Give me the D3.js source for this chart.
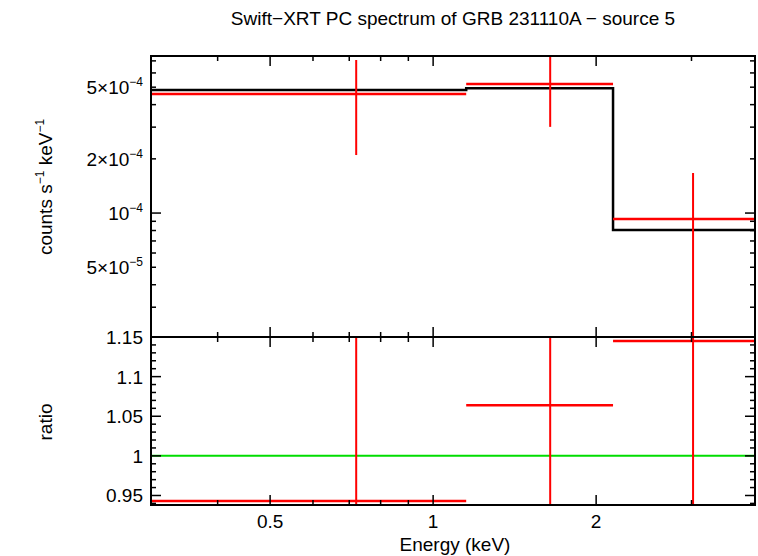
<!DOCTYPE html><html><head><meta charset="utf-8"><script src="https://cdn.jsdelivr.net/npm/d3@7"></script>
<style>body{margin:0;background:#fff}text{font-family:"Liberation Sans",Arial,sans-serif}</style></head><body>
<script>
const binLo=[0.3013,1.151,2.149];
const binHi=[1.151,2.149,4.2];
const binMid=[0.721,1.645,3.02];
const dataVal=[4.58e-4,5.20e-4,9.26e-5];
const dataHi=[7.08e-4,7.8e-4,1.67e-4];
const dataLo=[2.10e-4,3.01e-4,1e-6];
const modelVal=[4.82e-4,4.94e-4,8.04e-5];
const ratioVal=[0.943,1.064,1.145];
const ratioHi=[1.3,1.3,1.3];
const ratioLo=[0.5,0.5,0.5];
const xTicks=[0.5,1,2];
const yTopTicks=[5e-5,1e-4,2e-4,5e-4];
const yTopLabels=[["5×10","−5"],["10","−4"],["2×10","−4"],["5×10","−4"]];
const ratioTicks=[0.95,1,1.05,1.1,1.15];

const W=758,H=556,L=151,R=755,T=56,M=337,B=505,FS=19;
const svg=d3.select("body").append("svg").attr("width",W).attr("height",H);
const x=d3.scaleLog().domain([0.3013,3.93]).range([L,R]);
const yT=d3.scaleLog().domain([2.05e-5,7.45e-4]).range([M,T]);
const yB=d3.scaleLinear().domain([0.938,1.15]).range([B,M]);
const cp=svg.append("defs");
cp.append("clipPath").attr("id","ct").append("rect").attr("x",L).attr("y",T).attr("width",R-L).attr("height",M-T);
cp.append("clipPath").attr("id","cb").append("rect").attr("x",L).attr("y",M).attr("width",R-L).attr("height",B-M);
const gT=svg.append("g").attr("clip-path","url(#ct)");
const gB=svg.append("g").attr("clip-path","url(#cb)");
const stepPts=[];binLo.forEach((lo,i)=>{stepPts.push([x(lo),yT(modelVal[i])]);stepPts.push([x(binHi[i]),yT(modelVal[i])]);});
gT.append("path").attr("d",d3.line()(stepPts)).attr("fill","none").attr("stroke","#000").attr("stroke-width",2.5);
binLo.forEach((lo,i)=>{
 gT.append("line").attr("x1",x(lo)).attr("x2",x(binHi[i])).attr("y1",yT(dataVal[i])).attr("y2",yT(dataVal[i])).attr("stroke","red").attr("stroke-width",2.5);
 gT.append("line").attr("x1",x(binMid[i])).attr("x2",x(binMid[i])).attr("y1",yT(dataLo[i])).attr("y2",yT(dataHi[i])).attr("stroke","red").attr("stroke-width",2);
});
gB.append("line").attr("x1",L).attr("x2",R).attr("y1",yB(1)).attr("y2",yB(1)).attr("stroke","#00dd00").attr("stroke-width",2);
binLo.forEach((lo,i)=>{
 gB.append("line").attr("x1",x(lo)).attr("x2",x(binHi[i])).attr("y1",yB(ratioVal[i])).attr("y2",yB(ratioVal[i])).attr("stroke","red").attr("stroke-width",2.5);
 gB.append("line").attr("x1",x(binMid[i])).attr("x2",x(binMid[i])).attr("y1",yB(ratioLo[i])).attr("y2",yB(ratioHi[i])).attr("stroke","red").attr("stroke-width",2);
});
[[T,M],[M,B]].forEach(([a,b])=>svg.append("rect").attr("x",L).attr("y",a).attr("width",R-L).attr("height",b-a).attr("fill","none").attr("stroke","#000").attr("stroke-width",2));
const xMinor=[0.4,0.5,0.6,0.7,0.8,0.9,1,2,3];
xMinor.forEach(v=>{const big=xTicks.includes(v);const l=big?10:5;
 [[M,-1],[T,1],[B,-1],[M,1]].forEach(([y0,d])=>svg.append("line").attr("x1",x(v)).attr("x2",x(v)).attr("y1",y0).attr("y2",y0+d*l).attr("stroke","#000").attr("stroke-width",1.5));
});
xTicks.forEach(v=>svg.append("text").attr("x",x(v)).attr("y",528).attr("text-anchor","middle").attr("font-size",FS).text(v));
const yMinor=[3e-5,4e-5,5e-5,6e-5,7e-5,8e-5,9e-5,1e-4,2e-4,3e-4,4e-4,5e-4,6e-4,7e-4];
yMinor.forEach(v=>{const big=(v===1e-4);const l=big?10:5;
 svg.append("line").attr("x1",L).attr("x2",L+l).attr("y1",yT(v)).attr("y2",yT(v)).attr("stroke","#000").attr("stroke-width",1.5);
 svg.append("line").attr("x1",R).attr("x2",R-l).attr("y1",yT(v)).attr("y2",yT(v)).attr("stroke","#000").attr("stroke-width",1.5);});
yTopTicks.forEach((v,i)=>{const t=svg.append("text").attr("x",143).attr("y",yT(v)+7).attr("text-anchor","end").attr("font-size",FS);
 t.append("tspan").text(yTopLabels[i][0]);t.append("tspan").attr("dy",-8).attr("font-size",12).text(yTopLabels[i][1]);});
d3.range(0.94,1.151,0.01).forEach(v=>{const big=ratioTicks.some(t=>Math.abs(t-v)<1e-6);const l=big?10:5;
 svg.append("line").attr("x1",L).attr("x2",L+l).attr("y1",yB(v)).attr("y2",yB(v)).attr("stroke","#000").attr("stroke-width",1.5);
 svg.append("line").attr("x1",R).attr("x2",R-l).attr("y1",yB(v)).attr("y2",yB(v)).attr("stroke","#000").attr("stroke-width",1.5);});
ratioTicks.forEach(v=>svg.append("text").attr("x",143).attr("y",yB(v)+7).attr("text-anchor","end").attr("font-size",FS).text(v));
svg.append("text").attr("x",453).attr("y",25).attr("text-anchor","middle").attr("font-size",FS).text("Swift−XRT PC spectrum of GRB 231110A − source 5");
svg.append("text").attr("x",455).attr("y",551).attr("text-anchor","middle").attr("font-size",FS).text("Energy (keV)");
svg.append("text").attr("transform","translate(52,422) rotate(-90)").attr("text-anchor","middle").attr("font-size",FS).text("ratio");
const yl=svg.append("text").attr("transform","translate(52,187) rotate(-90)").attr("text-anchor","middle").attr("font-size",FS);
yl.append("tspan").text("counts s");yl.append("tspan").attr("dy",-8).attr("font-size",12).text("−1");
yl.append("tspan").attr("dy",8).text(" keV");yl.append("tspan").attr("dy",-8).attr("font-size",12).text("−1");
</script></body></html>
